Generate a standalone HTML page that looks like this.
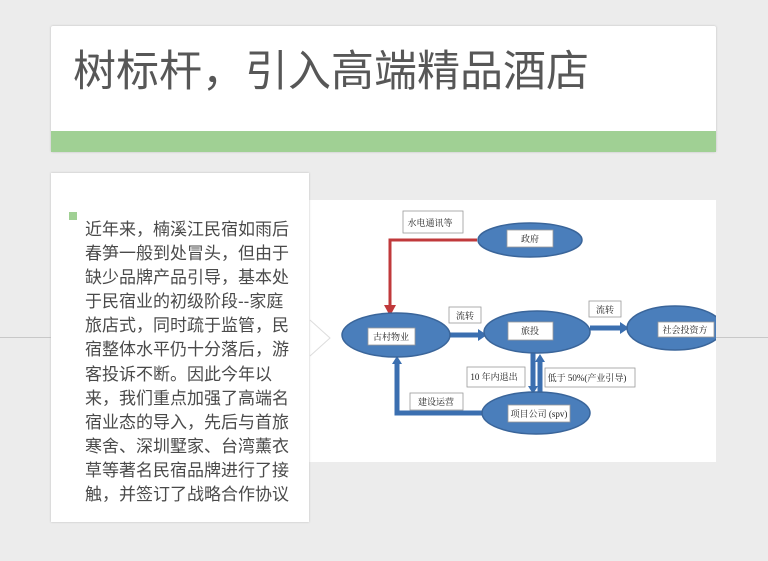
<!DOCTYPE html>
<html><head><meta charset="utf-8"><style>
body{margin:0;width:768px;height:561px;background:#ececec;position:relative;overflow:hidden;font-family:"Liberation Sans","Noto Sans CJK SC",sans-serif}
.hl{position:absolute;top:337px;height:1px;background:#c8c8c8}
#top{position:absolute;left:51px;top:26px;width:665px;height:126px;background:#fff;box-shadow:0 0 2px #bbb;border-radius:2px}
#bar{position:absolute;left:0;bottom:0;width:100%;height:21px;background:#a0d094}
#title{position:absolute;left:22px;top:20px;font-size:43px;color:#575757;white-space:nowrap;line-height:52px}
#card{position:absolute;left:51px;top:173px;width:258px;height:349px;background:#fff;box-shadow:0 0 2px #bbb}
#bul{position:absolute;left:18px;top:39px;width:8px;height:8px;background:#a0d094}
#txt{position:absolute;left:34px;top:45px;width:220px;font-size:17px;color:#4a4a4a}
#txt div{height:24.1px;line-height:24.1px;white-space:nowrap}
</style></head><body>
<div class="hl" style="left:0;width:51px"></div>
<div class="hl" style="left:716px;width:52px"></div>
<div id="top"><div id="title">树标杆，引入高端精品酒店</div><div id="bar"></div></div>
<svg style="position:absolute;left:309px;top:200px" width="407" height="262" viewBox="309 200 407 262">
<rect x="309" y="200" width="407" height="262" fill="#fff"/>
<polyline points="310,320 330,338 310,356" fill="none" stroke="#ddd" stroke-width="1"/>
<g font-family="Liberation Serif,Noto Serif CJK SC,serif" font-size="9" fill="#222" text-anchor="middle">
<path d="M477,240 H390 V307" fill="none" stroke="#c0393b" stroke-width="3"/>
<polygon points="384,305 396,305 390,316" fill="#c0393b"/>
<g stroke="#3b6fb0" stroke-width="5" fill="none">
<path d="M450,335 H480"/><path d="M590,328 H622"/>
<path d="M533,353 V388"/><path d="M540,395 V360"/>
<path d="M482,413 H397 V362"/>
</g>
<polygon points="478,329 487,335 478,341" fill="#3b6fb0"/>
<polygon points="620,322 629,328 620,334" fill="#3b6fb0"/>
<polygon points="528,386 538,386 533,394" fill="#3b6fb0"/>
<polygon points="535,362 545,362 540,354" fill="#3b6fb0"/>
<polygon points="392,364 402,364 397,356" fill="#3b6fb0"/>
<g fill="#4a7ebb" stroke="#3a659a" stroke-width="1.5">
<ellipse cx="530" cy="240" rx="52" ry="17"/>
<ellipse cx="396" cy="335" rx="54" ry="22"/>
<ellipse cx="537" cy="332" rx="53" ry="21"/>
<ellipse cx="675" cy="328" rx="48" ry="22"/>
<ellipse cx="536" cy="413" rx="54" ry="21"/>
</g>
<g fill="#fff" stroke="#999" stroke-width="0.8">
<rect x="507" y="230" width="46" height="17"/><rect x="368" y="328" width="47" height="17"/>
<rect x="508" y="322" width="45" height="18"/><rect x="658" y="322" width="56" height="15"/>
<rect x="508" y="405" width="62" height="17"/>
<rect x="403" y="211" width="60" height="22"/><rect x="449" y="307" width="32" height="16"/>
<rect x="589" y="301" width="32" height="16"/><rect x="467" y="367" width="58" height="20"/>
<rect x="545" y="368" width="90" height="19"/><rect x="410" y="393" width="53" height="17"/>
</g>
<text x="530" y="242">政府</text><text x="391" y="340">古村物业</text>
<text x="530" y="334">旅投</text><text x="685" y="333">社会投资方</text>
<text x="539" y="417">项目公司 (spv)</text><text x="430" y="226">水电通讯等</text>
<text x="465" y="319">流转</text><text x="605" y="313">流转</text>
<text x="494" y="380">10 年内退出</text><text x="587" y="381">低于 50%(产业引导)</text>
<text x="436" y="405">建设运营</text>
</g>
</svg>
<div id="card"><div id="bul"></div><div id="txt">
<div>近年来，楠溪江民宿如雨后</div>
<div>春笋一般到处冒头，但由于</div>
<div>缺少品牌产品引导，基本处</div>
<div>于民宿业的初级阶段--家庭</div>
<div>旅店式，同时疏于监管，民</div>
<div>宿整体水平仍十分落后，游</div>
<div>客投诉不断。因此今年以</div>
<div>来，我们重点加强了高端名</div>
<div>宿业态的导入，先后与首旅</div>
<div>寒舍、深圳墅家、台湾薰衣</div>
<div>草等著名民宿品牌进行了接</div>
<div>触，并签订了战略合作协议</div>
</div></div>
</body></html>
